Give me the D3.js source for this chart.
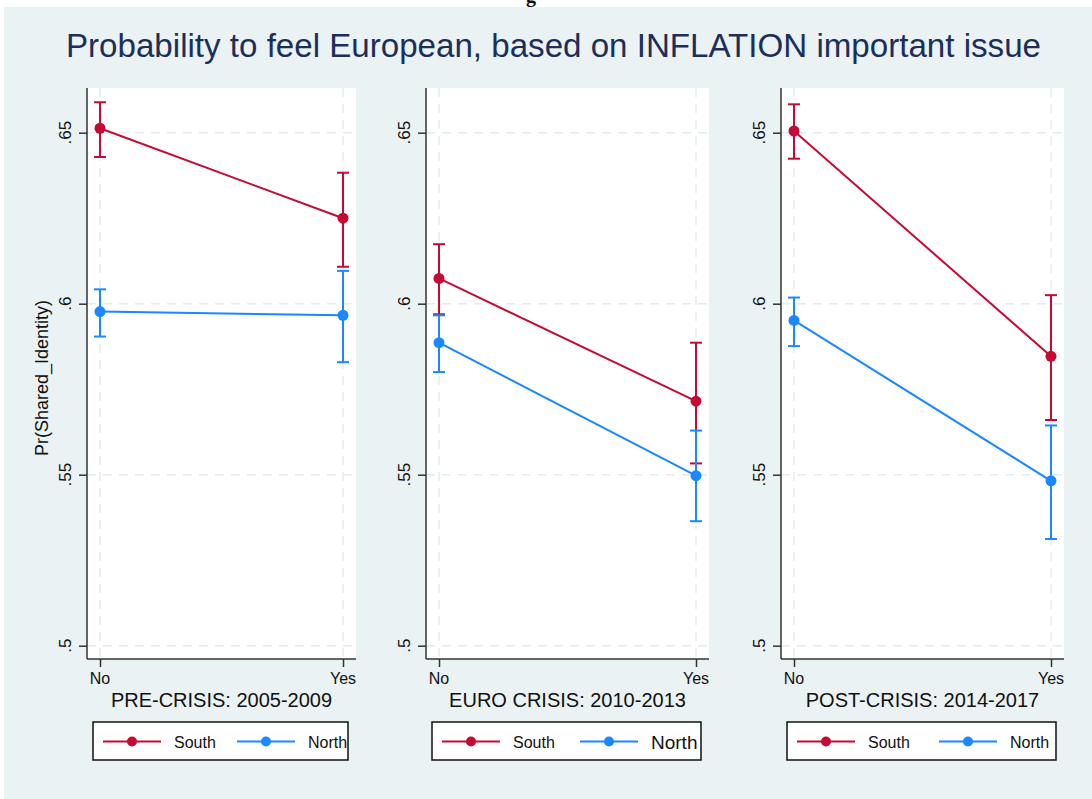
<!DOCTYPE html>
<html>
<head>
<meta charset="utf-8">
<script src="https://cdn.jsdelivr.net/npm/d3@7"></script>
<style>
  body { margin: 0; background: #fff; }
  text { font-family: "Liberation Sans", Arial, sans-serif; }
</style>
</head>
<body>
<div id="chart"></div>
<script>
// Values
const categories = ["No", "Yes"];
const panelTitles = ["PRE-CRISIS: 2005-2009", "EURO CRISIS: 2010-2013", "POST-CRISIS: 2014-2017"];
const seriesNames = ["South", "North"];

const southMean = [[0.6513, 0.6250], [0.6074, 0.5715], [0.6505, 0.5846]];
const southLow  = [[0.6429, 0.6108], [0.5969, 0.5533], [0.6424, 0.5660]];
const southHigh = [[0.6589, 0.6383], [0.6174, 0.5886], [0.6583, 0.6025]];

const northMean = [[0.5977, 0.5966], [0.5886, 0.5497], [0.5951, 0.5482]];
const northLow  = [[0.5904, 0.5829], [0.5800, 0.5364], [0.5876, 0.5312]];
const northHigh = [[0.6042, 0.6096], [0.5966, 0.5629], [0.6018, 0.5644]];

const yTicks = [0.5, 0.55, 0.6, 0.65];
const yTickLabels = [".5", ".55", ".6", ".65"];

const title = "Probability to feel European, based on INFLATION important issue";
const yTitle = "Pr(Shared_Identity)";

// layout
let width = 1092, height = 799;
const plotTop = 88, plotBottom = 659;
const cells = [
  {left: 87, right: 356, key2: 144, northSize: 16},
  {left: 426, right: 709, key2: 148, northSize: 19},
  {left: 781, right: 1064, key2: 152, northSize: 16}
];
const colors = {South: "#c50a35", North: "#1a88ff"};
const gridColor = "#e3ecef";

let svg = d3.select('#chart')
  .append('svg')
  .attr('width', width)
  .attr('height', height);

// caption glyph cut off at the very top (as in the source image)
svg.append('text')
  .attr('x', 526)
  .attr('y', 2)
  .style('font-family', '"Liberation Serif", serif')
  .style('font-weight', 'bold')
  .style('font-size', '20px')
  .attr('fill', '#111')
  .text('g');

// outer background
svg.append('rect')
  .attr('x', 4)
  .attr('y', 7)
  .attr('width', width - 4)
  .attr('height', height - 7)
  .attr('fill', '#eaf2f3');

// title
svg.append('text')
  .attr('x', 553.5)
  .attr('y', 57)
  .attr('text-anchor', 'middle')
  .attr('textLength', 975)
  .attr('lengthAdjust', 'spacingAndGlyphs')
  .style('font-size', '33px')
  .attr('fill', '#1c2f58')
  .text(title);

let yScale = d3.scaleLinear()
  .domain([0.5, 0.65])
  .range([645.7, 132.7]);

panelTitles.forEach((pt, p) => {
  const c = cells[p];
  const g = svg.append('g');

  const xScale = d3.scalePoint()
    .domain(categories)
    .range([c.left + 13, c.right - 13]);

  // plot region
  g.append('rect')
    .attr('x', c.left)
    .attr('y', plotTop)
    .attr('width', c.right - c.left)
    .attr('height', plotBottom - plotTop)
    .attr('fill', '#fff');

  // grid lines
  g.selectAll('.hgrid')
    .data(yTicks)
    .enter()
    .append('line')
    .attr('x1', c.left)
    .attr('x2', c.right)
    .attr('y1', d => yScale(d))
    .attr('y2', d => yScale(d))
    .attr('stroke', gridColor)
    .attr('stroke-width', 1.5)
    .attr('stroke-dasharray', '9,7');

  g.selectAll('.vgrid')
    .data(categories)
    .enter()
    .append('line')
    .attr('x1', d => xScale(d))
    .attr('x2', d => xScale(d))
    .attr('y1', plotTop)
    .attr('y2', plotBottom)
    .attr('stroke', gridColor)
    .attr('stroke-width', 1.5)
    .attr('stroke-dasharray', '9,7');

  // y axis
  const yAxis = g.append('g')
    .attr('transform', `translate(${c.left}, 0)`)
    .call(d3.axisLeft(yScale).tickValues(yTicks).tickSize(8).tickFormat(''));
  yAxis.select('.domain').attr('d', `M0,${plotTop}V${plotBottom}`);
  yAxis.selectAll('line, path').attr('stroke', '#333').attr('stroke-width', 1.5);

  g.selectAll('.ylab')
    .data(yTicks)
    .enter()
    .append('text')
    .attr('transform', d => `translate(${c.left - 16}, ${yScale(d)}) rotate(-90)`)
    .attr('text-anchor', 'middle')
    .style('font-size', '17px')
    .attr('fill', '#111')
    .text((d, i) => yTickLabels[i]);

  // x axis
  const xAxis = g.append('g')
    .attr('transform', `translate(0, ${plotBottom})`)
    .call(d3.axisBottom(xScale).tickSize(8).tickFormat(''));
  xAxis.select('.domain').attr('d', `M${c.left},0H${c.right}`);
  xAxis.selectAll('line, path').attr('stroke', '#333').attr('stroke-width', 1.5);

  g.selectAll('.xlab')
    .data(categories)
    .enter()
    .append('text')
    .attr('x', d => xScale(d))
    .attr('y', 684)
    .attr('text-anchor', 'middle')
    .style('font-size', '16px')
    .attr('fill', '#111')
    .text(d => d);

  // x-axis title
  g.append('text')
    .attr('x', (c.left + c.right) / 2)
    .attr('y', 707)
    .attr('text-anchor', 'middle')
    .style('font-size', '20px')
    .attr('fill', '#111')
    .text(pt);

  // y-axis title only on first panel
  if (p === 0) {
    g.append('text')
      .attr('transform', `translate(48, 378) rotate(-90)`)
      .attr('text-anchor', 'middle')
      .style('font-size', '18px')
      .attr('fill', '#111')
      .text(yTitle);
  }

  // series
  const series = [
    {name: "South", mean: southMean[p], low: southLow[p], high: southHigh[p]},
    {name: "North", mean: northMean[p], low: northLow[p], high: northHigh[p]}
  ];

  series.forEach(s => {
    const col = colors[s.name];
    const pts = categories.map((cat, i) => ({cat, mean: s.mean[i], low: s.low[i], high: s.high[i]}));

    // error bars
    pts.forEach(d => {
      const x = xScale(d.cat);
      g.append('line')
        .attr('x1', x).attr('x2', x)
        .attr('y1', yScale(d.low)).attr('y2', yScale(d.high))
        .attr('stroke', col).attr('stroke-width', 2);
      [d.low, d.high].forEach(v => {
        g.append('line')
          .attr('x1', x - 6).attr('x2', x + 6)
          .attr('y1', yScale(v)).attr('y2', yScale(v))
          .attr('stroke', col).attr('stroke-width', 2);
      });
    });

    // connecting line
    g.append('path')
      .datum(pts)
      .attr('fill', 'none')
      .attr('stroke', col)
      .attr('stroke-width', 2)
      .attr('d', d3.line()
        .x(d => xScale(d.cat))
        .y(d => yScale(d.mean)));

    // markers
    g.selectAll('.m' + s.name)
      .data(pts)
      .enter()
      .append('circle')
      .attr('cx', d => xScale(d.cat))
      .attr('cy', d => yScale(d.mean))
      .attr('r', 5.5)
      .attr('fill', col);
  });

  // legend
  const bx = c.left + 6, bw = (c.right - 8) - bx;
  const legend = g.append('g')
    .attr('transform', `translate(${bx}, 722)`);

  legend.append('rect')
    .attr('width', bw)
    .attr('height', 38)
    .attr('fill', '#fff')
    .attr('stroke', '#111')
    .attr('stroke-width', 1.5);

  seriesNames.forEach((name, i) => {
    const kx = i === 0 ? 10 : c.key2;
    legend.append('line')
      .attr('x1', kx).attr('x2', kx + 58)
      .attr('y1', 19.5).attr('y2', 19.5)
      .attr('stroke', colors[name]).attr('stroke-width', 2);
    legend.append('circle')
      .attr('cx', kx + 29)
      .attr('cy', 19.5)
      .attr('r', 5)
      .attr('fill', colors[name]);
    const fs = (name === "North") ? c.northSize : 16;
    legend.append('text')
      .attr('x', kx + 71)
      .attr('y', 20 + fs * 0.38)
      .style('font-size', fs + 'px')
      .attr('fill', '#111')
      .text(name);
  });
});
</script>
</body>
</html>
